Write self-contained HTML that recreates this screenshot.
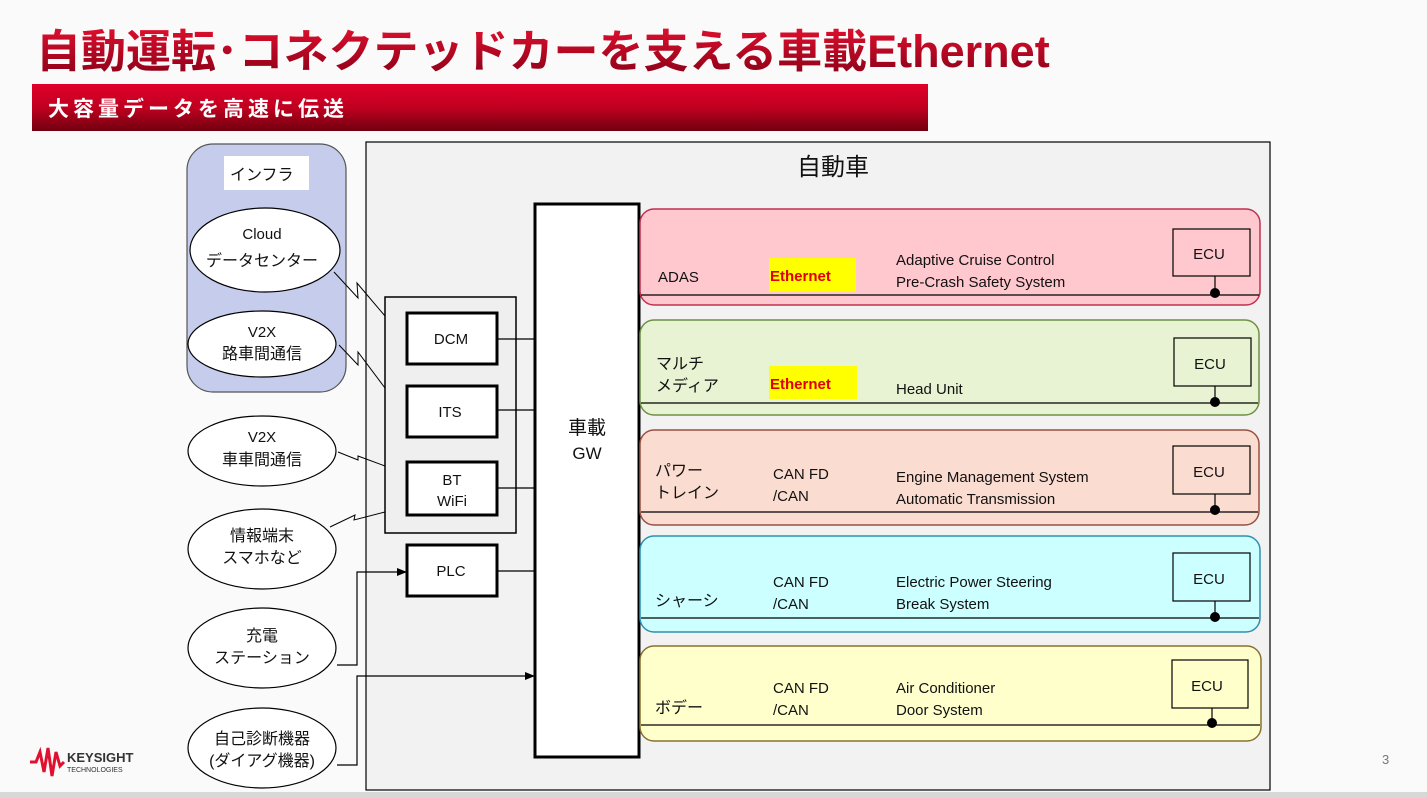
<!DOCTYPE html>
<html><head><meta charset="utf-8"><style>
html,body{margin:0;padding:0;width:1427px;height:798px;overflow:hidden;background:#fbfbfb}
svg{display:block}
text{font-family:"Liberation Sans","Noto Sans CJK JP",sans-serif;fill:#111}
</style></head><body>
<svg width="1427" height="798" viewBox="0 0 1427 798" xmlns="http://www.w3.org/2000/svg">
<defs>
<linearGradient id="bar" x1="0" y1="0" x2="0" y2="1"><stop offset="0" stop-color="#e0002a"/><stop offset="0.5" stop-color="#c00020"/><stop offset="1" stop-color="#70000f"/></linearGradient>
<linearGradient id="tt" x1="0" y1="0" x2="0" y2="1"><stop offset="0" stop-color="#e0102e"/><stop offset="1" stop-color="#8a0018"/></linearGradient>
<marker id="ar" markerWidth="10" markerHeight="10" refX="9" refY="5" orient="auto" markerUnits="userSpaceOnUse"><path d="M0,1 L10,5 L0,9 z" fill="#000"/></marker>
</defs>
<rect x="0" y="0" width="1427" height="798" fill="#fafafa"/>
<rect x="0" y="792" width="1427" height="6" fill="#d8d8d8"/>
<text x="36" y="67" font-size="45" font-weight="bold" style="fill:url(#tt)">自動運転･コネクテッドカーを支える車載Ethernet</text>
<rect x="32" y="84" width="896" height="47" fill="url(#bar)"/>
<text x="48" y="116" font-size="21" font-weight="bold" letter-spacing="4" style="fill:#fff">大容量データを高速に伝送</text>

<!-- car box -->
<rect x="366" y="142" width="904" height="648" fill="#f2f2f2" stroke="#000" stroke-width="1.2"/>
<text x="833" y="175" font-size="24" text-anchor="middle">自動車</text>

<!-- infra -->
<rect x="187" y="144" width="159" height="248" rx="26" fill="#c6ccec" stroke="#555" stroke-width="1.2"/>
<rect x="224" y="156" width="85" height="34" fill="#fff"/>
<text x="230" y="180" font-size="16">インフラ</text>
<g fill="#fff" stroke="#000" stroke-width="1.2">
<ellipse cx="265" cy="250" rx="75" ry="42"/>
<ellipse cx="262" cy="344" rx="74" ry="33"/>
<ellipse cx="262" cy="451" rx="74" ry="35"/>
<ellipse cx="262" cy="549" rx="74" ry="40"/>
<ellipse cx="262" cy="648" rx="74" ry="40"/>
<ellipse cx="262" cy="748" rx="74" ry="40"/>
</g>
<g font-size="16" text-anchor="middle">
<text x="262" y="239" font-size="15">Cloud</text><text x="262" y="266">データセンター</text>
<text x="262" y="337" font-size="15">V2X</text><text x="262" y="359">路車間通信</text>
<text x="262" y="442" font-size="15">V2X</text><text x="262" y="465">車車間通信</text>
<text x="262" y="541">情報端末</text><text x="262" y="563">スマホなど</text>
<text x="262" y="641">充電</text><text x="262" y="663">ステーション</text>
<text x="262" y="744">自己診断機器</text><text x="262" y="766">(ダイアグ機器)</text>
</g>

<!-- zigzags -->
<g fill="none" stroke="#000" stroke-width="1">
<path d="M334,272 L358,298 L357,283 L385,316"/>
<path d="M339,345 L358,365 L358,352 L385,388"/>
<path d="M338,452 L358,460 L358,456 L385,466"/>
<path d="M330,527 L355,515 L354,520 L385,512"/>
</g>

<!-- comm box -->
<rect x="385" y="297" width="131" height="236" fill="#efefef" stroke="#000" stroke-width="1.5"/>
<g fill="#fff" stroke="#000" stroke-width="3">
<rect x="407" y="313" width="90" height="51"/>
<rect x="407" y="386" width="90" height="51"/>
<rect x="407" y="462" width="90" height="53"/>
<rect x="407" y="545" width="90" height="51"/>
<rect x="535" y="204" width="104" height="553"/>
</g>
<g font-size="15" text-anchor="middle">
<text x="451" y="344">DCM</text>
<text x="450" y="417">ITS</text>
<text x="452" y="485">BT</text><text x="452" y="506">WiFi</text>
<text x="451" y="576">PLC</text>
<text x="587" y="434" font-size="19">車載</text>
<text x="587" y="459" font-size="17">GW</text>
</g>
<g stroke="#000" stroke-width="1.2" fill="none">
<line x1="497" y1="339" x2="535" y2="339"/>
<line x1="497" y1="410" x2="535" y2="410"/>
<line x1="497" y1="488" x2="535" y2="488"/>
<line x1="497" y1="571" x2="535" y2="571"/>
<path d="M337,665 L357,665 L357,572 L406,572" marker-end="url(#ar)"/>
<path d="M337,765 L357,765 L357,676 L534,676" marker-end="url(#ar)"/>
</g>

<!-- domains -->
<g stroke-width="1.5">
<rect x="640" y="209" width="620" height="96" rx="14" fill="#ffc7ce" stroke="#c03050"/>
<rect x="640" y="320" width="619" height="95" rx="14" fill="#e7f3d2" stroke="#6f8f45"/>
<rect x="640" y="430" width="619" height="95" rx="14" fill="#fbdcd0" stroke="#9a5040"/>
<rect x="640" y="536" width="620" height="96" rx="14" fill="#ccffff" stroke="#2f8fb0"/>
<rect x="640" y="646" width="621" height="95" rx="14" fill="#ffffcc" stroke="#8a7030"/>
</g>
<g stroke="#000" stroke-width="1.2" fill="none">
<line x1="641" y1="295" x2="1259" y2="295"/>
<line x1="641" y1="403" x2="1258" y2="403"/>
<line x1="641" y1="512" x2="1258" y2="512"/>
<line x1="641" y1="618" x2="1259" y2="618"/>
<line x1="641" y1="725" x2="1260" y2="725"/>
<rect x="1173" y="229" width="77" height="47"/><line x1="1215" y1="276" x2="1215" y2="292"/>
<rect x="1174" y="338" width="77" height="48"/><line x1="1215" y1="386" x2="1215" y2="400"/>
<rect x="1173" y="446" width="77" height="48"/><line x1="1215" y1="494" x2="1215" y2="509"/>
<rect x="1173" y="553" width="77" height="48"/><line x1="1215" y1="601" x2="1215" y2="615"/>
<rect x="1172" y="660" width="76" height="48"/><line x1="1212" y1="708" x2="1212" y2="722"/>
</g>
<g fill="#000">
<circle cx="1215" cy="293" r="5"/><circle cx="1215" cy="402" r="5"/><circle cx="1215" cy="510" r="5"/><circle cx="1215" cy="617" r="5"/><circle cx="1212" cy="723" r="5"/>
</g>
<rect x="769" y="258" width="87" height="34" fill="#ffff00"/>
<rect x="769" y="366" width="88" height="33" fill="#ffff00"/>
<g font-size="15">
<text x="1209" y="259" text-anchor="middle">ECU</text>
<text x="1210" y="369" text-anchor="middle">ECU</text>
<text x="1209" y="477" text-anchor="middle">ECU</text>
<text x="1209" y="584" text-anchor="middle">ECU</text>
<text x="1207" y="691" text-anchor="middle">ECU</text>
<text x="658" y="282">ADAS</text>
<text x="770" y="281" font-weight="bold" style="fill:#e00000">Ethernet</text>
<text x="896" y="265">Adaptive Cruise Control</text>
<text x="896" y="287">Pre-Crash Safety System</text>
<text x="656" y="369" font-size="16">マルチ</text>
<text x="656" y="391" font-size="16">メディア</text>
<text x="770" y="389" font-weight="bold" style="fill:#e00000">Ethernet</text>
<text x="896" y="394">Head Unit</text>
<text x="655" y="476" font-size="16">パワー</text>
<text x="655" y="498" font-size="16">トレイン</text>
<text x="773" y="479">CAN FD</text><text x="773" y="501">/CAN</text>
<text x="896" y="482">Engine Management System</text>
<text x="896" y="504">Automatic Transmission</text>
<text x="655" y="606" font-size="16">シャーシ</text>
<text x="773" y="587">CAN FD</text><text x="773" y="609">/CAN</text>
<text x="896" y="587">Electric Power Steering</text>
<text x="896" y="609">Break System</text>
<text x="655" y="713" font-size="16">ボデー</text>
<text x="773" y="693">CAN FD</text><text x="773" y="715">/CAN</text>
<text x="896" y="693">Air Conditioner</text>
<text x="896" y="715">Door System</text>
</g>

<!-- logo -->
<path d="M30,762 L36,762 L40,752 L44,772 L48,748 L52,776 L56,752 L60,766 L64,762" fill="none" stroke="#e0102e" stroke-width="3"/>
<text x="67" y="762" font-size="13" font-weight="bold" style="fill:#333">KEYSIGHT</text>
<text x="67" y="772" font-size="7" style="fill:#333">TECHNOLOGIES</text>
<text x="1382" y="764" font-size="13" style="fill:#777">3</text>
</svg>
</body></html>
